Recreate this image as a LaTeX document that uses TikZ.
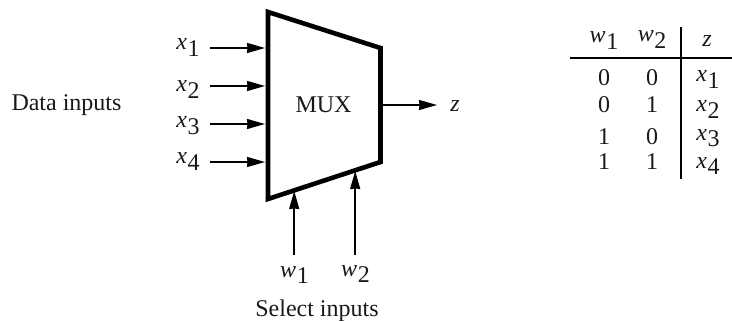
\documentclass[tikz,border=0pt]{standalone}
\usepackage{fontspec}
\setmainfont{Liberation Serif}
\usetikzlibrary{arrows.meta}
\newcommand{\lbl}[2]{\textit{#1}\kern0.5pt\raisebox{-0.26em}{#2}}
\tikzset{
  txt/.style={inner sep=0pt,anchor=base,font=\fontsize{24}{26}\selectfont,text=black!90},
  sig/.style={line width=1.6pt,-{Stealth[length=18pt,width=10pt,inset=0.5pt]}},
  mux/.style={line width=4.6pt,line join=miter,miter limit=10},
  rule/.style={line width=1.4pt}
}
\begin{document}
\begin{tikzpicture}[x=1pt,y=-1pt]
\useasboundingbox (0,0) rectangle (732,321);
% multiplexer body
\coordinate (tl) at (268,12);
\coordinate (tr) at (380.5,48);
\coordinate (br) at (380.5,162);
\coordinate (bl) at (268,199);
\draw[mux] (tl) -- (tr) -- (br) -- (bl) -- cycle;
\node[txt] (mux) at (323.5,113) {MUX};
% inputs
\node[txt] (dat) at (66.5,111) {Data inputs};
\node[txt] (x1) at (188,50) {\lbl{x}{1}};
\node[txt] (x2) at (188,92) {\lbl{x}{2}};
\node[txt] (x3) at (188,128) {\lbl{x}{3}};
\node[txt] (x4) at (188,164) {\lbl{x}{4}};
\coordinate (a1s) at (210,48);  \coordinate (a1e) at (265,48);
\coordinate (a2s) at (210,86);  \coordinate (a2e) at (265,86);
\coordinate (a3s) at (210,124); \coordinate (a3e) at (265,124);
\coordinate (a4s) at (210,162); \coordinate (a4e) at (265,162);
\draw[sig] (a1s) -- (a1e);
\draw[sig] (a2s) -- (a2e);
\draw[sig] (a3s) -- (a3e);
\draw[sig] (a4s) -- (a4e);
% output
\coordinate (os) at (382,105); \coordinate (oe) at (437,105);
\draw[sig] (os) -- (oe);
\node[txt] (z) at (455,112) {\textit{z}};
% select
\coordinate (w1s) at (294.2,255); \coordinate (w1e) at (294.2,191);
\coordinate (w2s) at (355.2,255);   \coordinate (w2e) at (355.2,171);
\draw[sig] (w1s) -- (w1e);
\draw[sig] (w2s) -- (w2e);
\node[txt] (w1) at (294.5,277) {\lbl{w}{1}};
\node[txt] (w2) at (355.5,276) {\lbl{w}{2}};
\node[txt] (sel) at (317,316.7) {Select inputs};
% table
\coordinate (hl) at (570,58); \coordinate (hr) at (732,58);
\coordinate (vt) at (681,27); \coordinate (vb) at (681,179);
\draw[rule] (hl) -- (hr);
\draw[rule] (vt) -- (vb);
\node[txt] (h1) at (604,43) {\lbl{w}{1}};
\node[txt] (h2) at (652,42) {\lbl{w}{2}};
\node[txt] (h3) at (707,47) {\textit{z}};
\node[txt] (r11) at (604,85) {0};
\node[txt] (r12) at (652,85) {0};
\node[txt] (r13) at (708,82) {\lbl{x}{1}};
\node[txt] (r21) at (604,113) {0};
\node[txt] (r22) at (652,113) {1};
\node[txt] (r23) at (708,112) {\lbl{x}{2}};
\node[txt] (r31) at (604,144) {1};
\node[txt] (r32) at (652,144) {0};
\node[txt] (r33) at (708,140) {\lbl{x}{3}};
\node[txt] (r41) at (604,169) {1};
\node[txt] (r42) at (652,169) {1};
\node[txt] (r43) at (708,168) {\lbl{x}{4}};
\end{tikzpicture}
\end{document}
